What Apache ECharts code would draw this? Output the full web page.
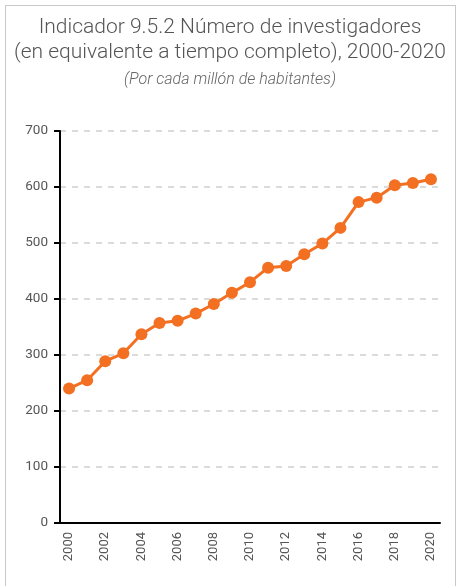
<!DOCTYPE html>
<html>
<head>
<meta charset="utf-8">
<script src="https://cdn.jsdelivr.net/npm/echarts@6/dist/echarts.min.js"></script>
<style>
  html, body { margin: 0; padding: 0; background: #fff; }
  #frame { position: absolute; left: 5px; top: 5px; width: 449px; height: 600px; border: 1px solid #c8c8c8; border-bottom: none; }
  #chart { position: absolute; left: 0; top: 0; width: 460px; height: 586px; }
</style>
</head>
<body>
<div id="frame"></div>
<div id="chart"></div>
<script>
// años y valores (investigadores por millón de habitantes)
const years = ['2000','2001','2002','2003','2004','2005','2006','2007','2008','2009','2010',
               '2011','2012','2013','2014','2015','2016','2017','2018','2019','2020'];
const researchers = [240, 255, 289, 303, 337, 357, 361, 374, 391, 411, 430,
                     456, 459, 480, 499, 527, 573, 581, 603, 607, 614];

const chart = echarts.init(document.getElementById('chart'));

const option = {
    animation: false,
    title: [{
        text: 'Indicador 9.5.2 Número de investigadores\n(en equivalente a tiempo completo), 2000-2020',
        left: 'center',
        top: 10,
        textStyle: {
            fontFamily: 'Roboto',
            fontWeight: 300,
            fontSize: 21,
            lineHeight: 25,
            color: '#555'
        }
    }, {
        text: '(Por cada millón de habitantes)',
        left: 'center',
        top: 67,
        textStyle: {
            fontFamily: 'Roboto',
            fontStyle: 'italic',
            fontWeight: 300,
            fontSize: 16,
            color: '#666'
        }
    }],
    grid: {left: 60, right: 20, top: 131, bottom: 63},
    xAxis: {
        type: 'category',
        data: years,
        boundaryGap: true,
        axisLine: {lineStyle: {color: '#000', width: 2}},
        axisTick: {show: false},
        axisLabel: {
            interval: 1,
            rotate: 90,
            margin: 9,
            fontFamily: 'Roboto',
            fontSize: 13,
            color: '#555'
        }
    },
    yAxis: {
        type: 'value',
        min: 0,
        max: 700,
        interval: 100,
        axisLine: {show: true, lineStyle: {color: '#000', width: 2}},
        axisTick: {show: true, length: 6, lineStyle: {color: '#000', width: 2}},
        axisLabel: {
            margin: 12,
            fontFamily: 'Roboto',
            fontSize: 13.5,
            color: '#555'
        },
        splitLine: {lineStyle: {color: '#d0d0d0', type: [6, 6], width: 1.5}}
    },
    series: [{
        type: 'line',
        data: researchers,
        symbol: 'circle',
        symbolSize: 12,
        itemStyle: {color: '#f37022'},
        lineStyle: {color: '#f37022', width: 3}
    }]
};

chart.setOption(option);
</script>
</body>
</html>
